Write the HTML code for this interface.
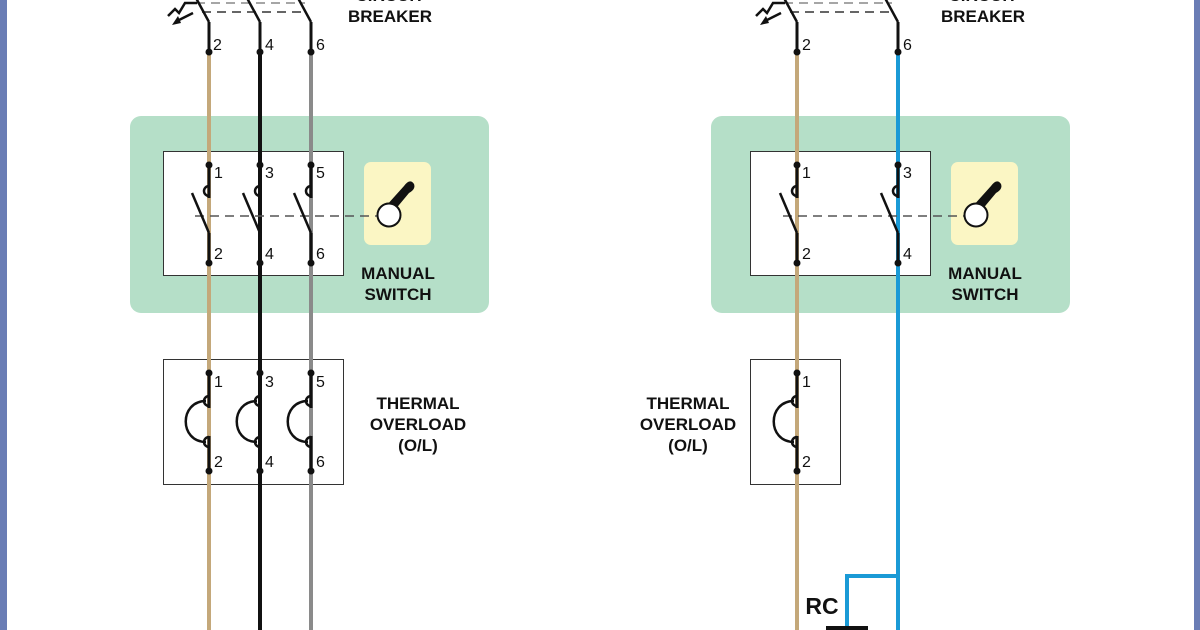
<!DOCTYPE html>
<html><head><meta charset="utf-8"><style>
html,body{margin:0;padding:0;background:#fff}
svg{display:block}
text{font-family:"Liberation Sans",Arial,sans-serif}
</style></head><body>
<svg width="1200" height="630" viewBox="0 0 1200 630" xmlns="http://www.w3.org/2000/svg">
<defs>
<g id="sw">
  <line x1="0" y1="165" x2="0" y2="198" stroke="#111" stroke-width="3"/>
  <path d="M0,186 a5,5 0 0 0 -5,5 a5,5 0 0 0 5,5" fill="none" stroke="#111" stroke-width="2.5"/>
  <line x1="-17" y1="193" x2="0" y2="233" stroke="#111" stroke-width="2.5"/>
  <line x1="0" y1="233" x2="0" y2="263" stroke="#111" stroke-width="3"/>
  <circle cx="0" cy="165" r="3.5" fill="#111"/>
  <circle cx="0" cy="263" r="3.5" fill="#111"/>
</g>
<g id="th">
  <line x1="0" y1="373" x2="0" y2="408" stroke="#111" stroke-width="3"/>
  <path d="M0,396 a5,5 0 0 0 -5,5 a5,5 0 0 0 5,5" fill="none" stroke="#111" stroke-width="2.5"/>
  <path d="M-3,401 C-30,401 -30,442 -3,442" fill="none" stroke="#111" stroke-width="2.5"/>
  <line x1="0" y1="436" x2="0" y2="471" stroke="#111" stroke-width="3"/>
  <path d="M0,437 a5,5 0 0 0 -5,5 a5,5 0 0 0 5,5" fill="none" stroke="#111" stroke-width="2.5"/>
  <circle cx="0" cy="373" r="3.5" fill="#111"/>
  <circle cx="0" cy="471" r="3.5" fill="#111"/>
</g>
<g id="cb">
  <line x1="-13" y1="-2" x2="0" y2="22" stroke="#111" stroke-width="2.5"/>
  <line x1="0" y1="22" x2="0" y2="52" stroke="#111" stroke-width="3"/>
  <circle cx="0" cy="52" r="3.5" fill="#111"/>
</g>
<g id="trip">
  <path d="M-41,16 L-34,9 L-30,13 L-24,3 L-12,3" fill="none" stroke="#111" stroke-width="2.5"/>
  <path d="M-16,13 L-32,21" fill="none" stroke="#111" stroke-width="2.5"/>
  <path d="M-37,25 L-31,16 L-28,23 Z" fill="#111"/>
</g>
</defs>
<rect x="0" y="0" width="7" height="630" fill="#6a7db5"/>
<rect x="1194" y="0" width="6" height="630" fill="#6a7db5"/>

<!-- LEFT -->
<rect x="130" y="116" width="359" height="197" rx="11" fill="#b5dfc8"/>
<rect x="163.5" y="151.5" width="180" height="124" fill="#fff" stroke="#333" stroke-width="1"/>
<rect x="364" y="162" width="67" height="83" rx="7" fill="#fbf6c4"/>
<rect x="163.5" y="359.5" width="180" height="125" fill="#fff" stroke="#333" stroke-width="1"/>
<line x1="209" y1="52" x2="209" y2="630" stroke="#c4a87a" stroke-width="4"/>
<line x1="260" y1="52" x2="260" y2="630" stroke="#111" stroke-width="4"/>
<line x1="311" y1="52" x2="311" y2="630" stroke="#8a8a8a" stroke-width="4"/>
<line x1="196" y1="3" x2="305" y2="3" stroke="#888" stroke-width="1.5" stroke-dasharray="9,6"/>
<line x1="202" y1="12" x2="305" y2="12" stroke="#333" stroke-width="1.5" stroke-dasharray="9,6"/>
<use href="#cb" x="209"/><use href="#cb" x="260"/><use href="#cb" x="311"/>
<use href="#trip" x="209"/>
<line x1="195" y1="216" x2="378" y2="216" stroke="#555" stroke-width="1.5" stroke-dasharray="9,6"/>
<use href="#sw" x="209"/><use href="#sw" x="260"/><use href="#sw" x="311"/>
<path d="M386,206 L404,186 Q410,178 414,184 Q416,189 409,193 L394,211 Z" fill="#111"/>
<circle cx="389" cy="215" r="11.5" fill="#fff" stroke="#111" stroke-width="2"/>
<use href="#th" x="209"/><use href="#th" x="260"/><use href="#th" x="311"/>
<g font-size="16" fill="#111">
<text x="213" y="50">2</text><text x="265" y="50">4</text><text x="316" y="50">6</text>
<text x="214" y="178">1</text><text x="265" y="178">3</text><text x="316" y="178">5</text>
<text x="214" y="259">2</text><text x="265" y="259">4</text><text x="316" y="259">6</text>
<text x="214" y="387">1</text><text x="265" y="387">3</text><text x="316" y="387">5</text>
<text x="214" y="467">2</text><text x="265" y="467">4</text><text x="316" y="467">6</text>
</g>
<g font-size="17" font-weight="bold" fill="#111" text-anchor="middle">
<text x="390" y="1">CIRCUIT</text><text x="390" y="22">BREAKER</text>
<text x="398" y="279">MANUAL</text><text x="398" y="300">SWITCH</text>
<text x="418" y="409">THERMAL</text><text x="418" y="430">OVERLOAD</text><text x="418" y="451">(O/L)</text>
</g>

<!-- RIGHT -->
<rect x="711" y="116" width="359" height="197" rx="11" fill="#b5dfc8"/>
<rect x="750.5" y="151.5" width="180" height="124" fill="#fff" stroke="#333" stroke-width="1"/>
<rect x="951" y="162" width="67" height="83" rx="7" fill="#fbf6c4"/>
<rect x="750.5" y="359.5" width="90" height="125" fill="#fff" stroke="#333" stroke-width="1"/>
<line x1="797" y1="52" x2="797" y2="630" stroke="#c4a87a" stroke-width="4"/>
<path d="M898,52 V630 M898,576 H847 V630" fill="none" stroke="#1a9ad6" stroke-width="4"/>
<line x1="784" y1="3" x2="892" y2="3" stroke="#888" stroke-width="1.5" stroke-dasharray="9,6"/>
<line x1="790" y1="12" x2="892" y2="12" stroke="#333" stroke-width="1.5" stroke-dasharray="9,6"/>
<use href="#cb" x="797"/><use href="#cb" x="898"/>
<use href="#trip" x="797"/>
<line x1="783" y1="216" x2="966" y2="216" stroke="#555" stroke-width="1.5" stroke-dasharray="9,6"/>
<use href="#sw" x="797"/><use href="#sw" x="898"/>
<path d="M973,206 L991,186 Q997,178 1001,184 Q1003,189 996,193 L981,211 Z" fill="#111"/>
<circle cx="976" cy="215" r="11.5" fill="#fff" stroke="#111" stroke-width="2"/>
<use href="#th" x="797"/>
<rect x="826" y="626" width="42" height="6" fill="#111"/>
<g font-size="16" fill="#111">
<text x="802" y="50">2</text><text x="903" y="50">6</text>
<text x="802" y="178">1</text><text x="903" y="178">3</text>
<text x="802" y="259">2</text><text x="903" y="259">4</text>
<text x="802" y="387">1</text>
<text x="802" y="467">2</text>
</g>
<g font-size="17" font-weight="bold" fill="#111" text-anchor="middle">
<text x="983" y="1">CIRCUIT</text><text x="983" y="22">BREAKER</text>
<text x="985" y="279">MANUAL</text><text x="985" y="300">SWITCH</text>
<text x="688" y="409">THERMAL</text><text x="688" y="430">OVERLOAD</text><text x="688" y="451">(O/L)</text>
</g>
<text x="822" y="614" font-size="23" font-weight="bold" fill="#111" text-anchor="middle">RC</text>
</svg>
</body></html>
